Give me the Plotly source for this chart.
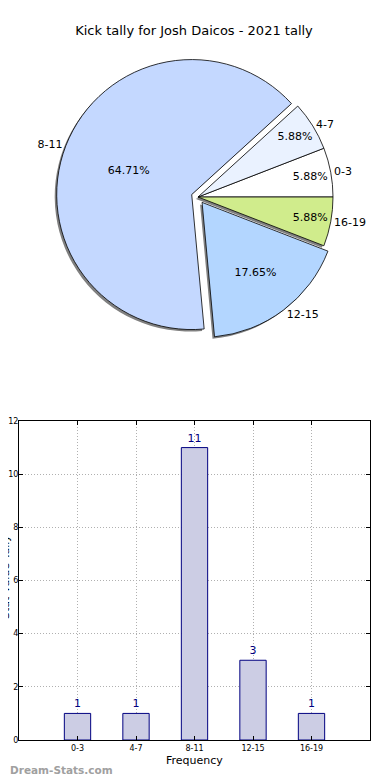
import plotly.graph_objects as go

categories = ["0-3", "4-7", "8-11", "12-15", "16-19"]
counts = [1, 1, 11, 3, 1]
pie_colors = ["#ffffff", "#eaf2ff", "#c4d8ff", "#b3d6ff", "#d0ec8c"]
pulls = [0.0, 0.0, 0.05, 0.05, 0.0]
y_ticks = [0, 2, 4, 6, 8, 10, 12]

title_text = "Kick tally for Josh Daicos - 2021 tally"
x_title = "Frequency"
y_title = "Stat Value Tally"
font = "DejaVu Sans"

# the page body adds an 8px offset; figure sized to fit the window
W, H = 382, 772
OFF = 8


def px_x(sx):
    return (sx - OFF) / W


def px_y(sy):
    return 1 - (sy - OFF) / H


# first slice starts at 3 o'clock going counterclockwise
rotation = 90 - 360 * counts[0] / sum(counts)

cx, cy, half = 198, 197, 141.75
pie_dom_x = [px_x(cx - half), px_x(cx + half)]
pie_dom_y = [px_y(cy + half), px_y(cy - half)]
sx = 2 / W
sy = 2 / H

common = dict(labels=categories, values=counts, sort=False, direction="counterclockwise",
              rotation=rotation, pull=pulls, showlegend=False, automargin=False)

fig = go.Figure()
# shadow
fig.add_trace(go.Pie(
    **common, textinfo="none", hoverinfo="skip",
    marker=dict(colors=["#808080"] * 5, line=dict(color="#808080", width=0)),
    domain=dict(x=[pie_dom_x[0] - sx, pie_dom_x[1] - sx], y=[pie_dom_y[0] - sy, pie_dom_y[1] - sy]),
))
# main pie with labels outside
fig.add_trace(go.Pie(
    **common, hoverinfo="label+percent",
    marker=dict(colors=pie_colors, line=dict(color="#000000", width=0.8)),
    domain=dict(x=pie_dom_x, y=pie_dom_y),
    textposition="outside", texttemplate="%{label}",
    outsidetextfont=dict(color="#000000", size=11, family=font),
))
# percentages inside
fig.add_trace(go.Pie(
    **common, hoverinfo="skip",
    marker=dict(colors=["rgba(0,0,0,0)"] * 5, line=dict(width=0)),
    domain=dict(x=pie_dom_x, y=pie_dom_y),
    textposition="inside", texttemplate="%{percent:.2%}",
    insidetextorientation="horizontal",
    insidetextfont=dict(color="#000000", size=11, family=font),
))

fig.add_trace(go.Bar(
    x=categories, y=counts, width=0.45,
    marker=dict(color="#cccde4", line=dict(color="#000080", width=1)),
    text=[str(v) for v in counts], textposition="outside",
    textfont=dict(color="#000080", size=11, family=font),
    cliponaxis=False, showlegend=False,
))

fig.update_layout(
    width=W, height=H,
    margin=dict(l=0, r=0, t=0, b=0, autoexpand=False),
    paper_bgcolor="white", plot_bgcolor="white",
    font=dict(family=font, color="#000000"),
    title=dict(text=title_text, x=px_x(194), xanchor="center", y=px_y(30), yanchor="middle",
               font=dict(size=13, family=font)),
    xaxis=dict(domain=[px_x(19), px_x(370)], range=[-1, 5], type="category",
               showline=True, linecolor="#000000", linewidth=1, mirror="ticks",
               ticks="inside", ticklen=4, tickcolor="#000000",
               showgrid=True, gridcolor="#b0b0b0", griddash="1px,2px", gridwidth=1,
               tickfont=dict(size=8, family=font),
               automargin=False, fixedrange=True),
    yaxis=dict(domain=[px_y(740), px_y(421)], range=[0, 12], tickvals=y_ticks,
               showline=True, linecolor="#000000", linewidth=1, mirror="ticks",
               ticks="inside", ticklen=4, tickcolor="#000000",
               showgrid=True, gridcolor="#b0b0b0", griddash="1px,2px", gridwidth=1,
               zeroline=False, ticklabelstandoff=-2,
               tickfont=dict(size=8, family=font),
               automargin=False, fixedrange=True),
    annotations=[
        dict(text=x_title, x=px_x(194), y=px_y(760), xref="paper", yref="paper",
             xanchor="center", yanchor="middle", showarrow=False,
             font=dict(size=11, family=font, color="#000000")),
        dict(text=y_title, x=px_x(5), y=px_y(577), xref="paper", yref="paper",
             xanchor="center", yanchor="middle", showarrow=False, textangle=-90,
             font=dict(size=11, family=font, color="#000000")),
        dict(text="<b>Dream-Stats.com</b>", x=0, y=px_y(770), xref="paper", yref="paper",
             xanchor="left", yanchor="middle", showarrow=False,
             font=dict(size=10.5, color="#a0a0a0", family=font)),
    ],
)

fig.write_html("out.html")
